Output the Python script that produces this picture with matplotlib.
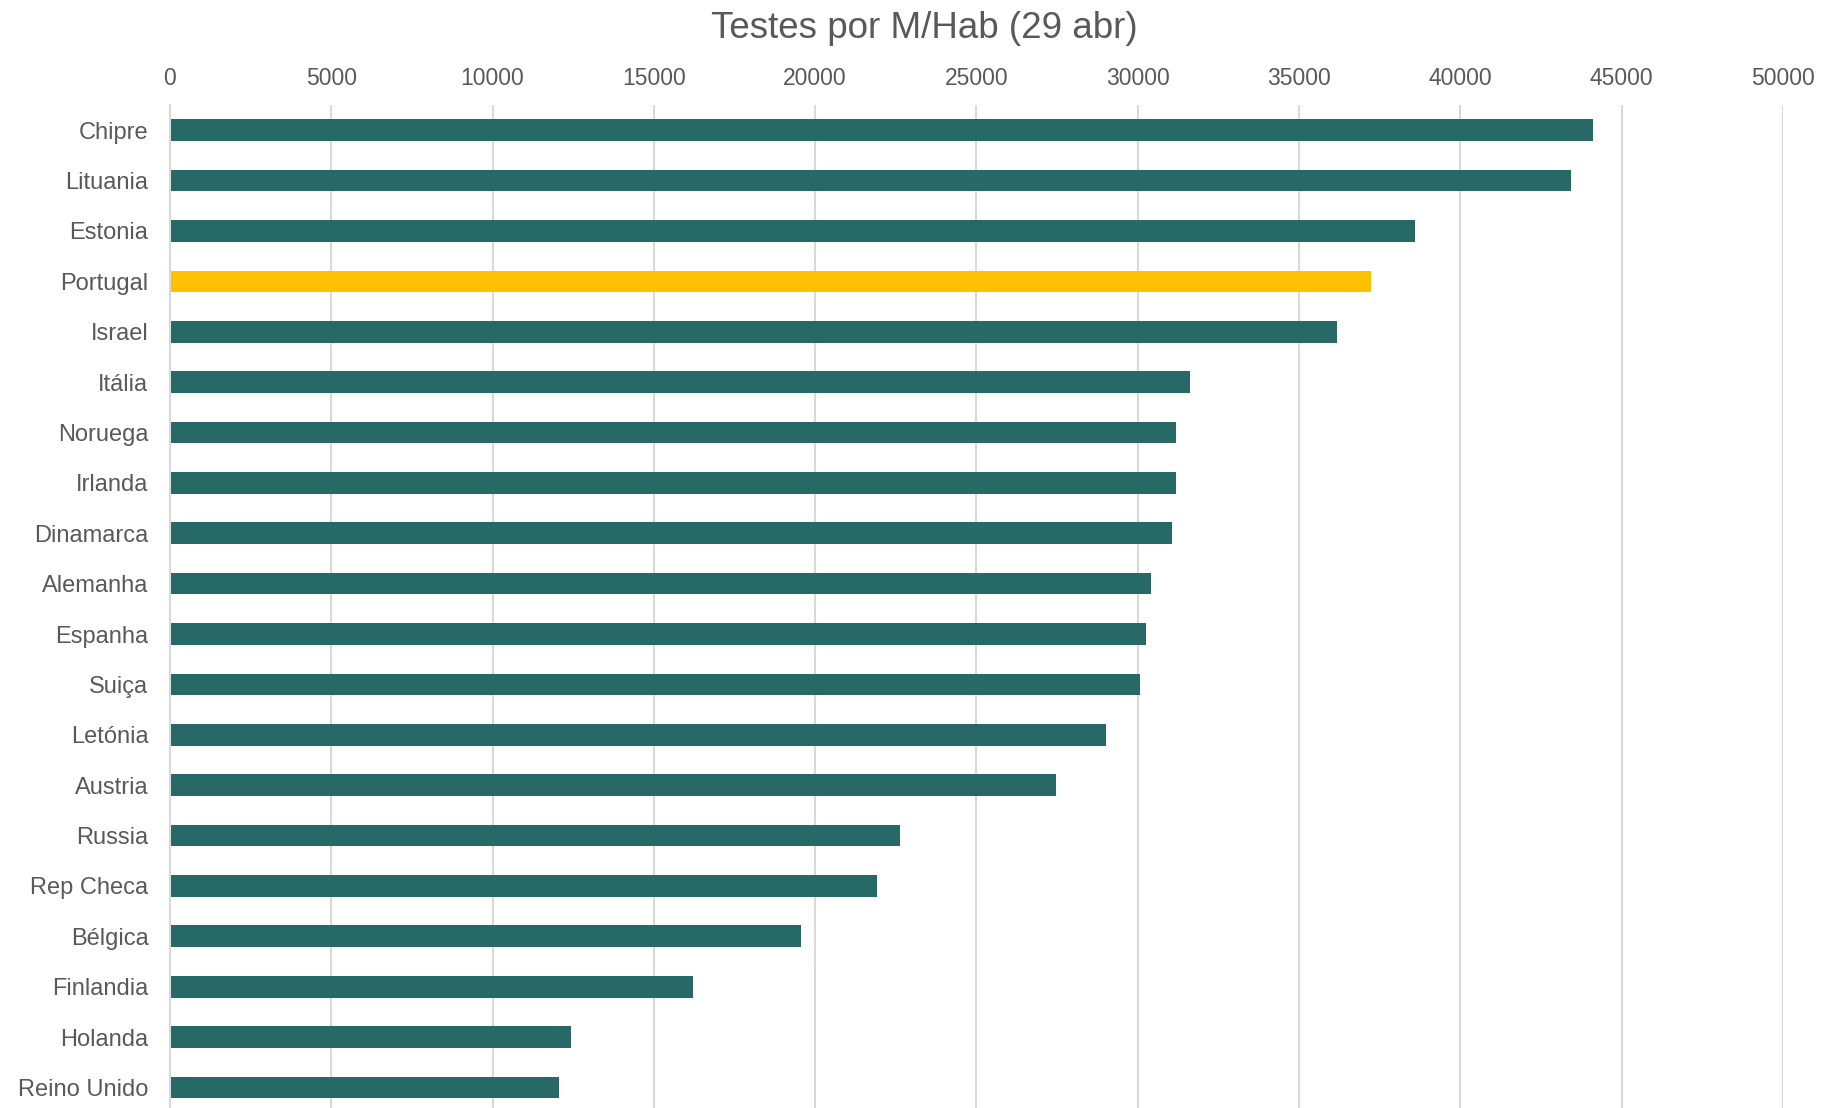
import matplotlib
matplotlib.use("Agg")
import matplotlib.pyplot as plt
import numpy as np

plt.rcParams['font.family'] = ['Liberation Sans', 'DejaVu Sans']

# data, top to bottom
paises = ["Chipre", "Lituania", "Estonia", "Portugal", "Israel", "Itália",
          "Noruega", "Irlanda", "Dinamarca", "Alemanha", "Espanha", "Suiça",
          "Letónia", "Austria", "Russia", "Rep Checa", "Bélgica", "Finlandia",
          "Holanda", "Reino Unido"]
testes = [44100, 43430, 38590, 37230, 36170, 31630,
          31200, 31200, 31060, 30400, 30260, 30080,
          29030, 27480, 22630, 21910, 19560, 16200,
          12430, 12060]
destaque = "Portugal"
xticks = list(range(0, 50001, 5000))

verde = "#276966"
amarelo = "#FFC000"
cinza = "#595959"
grelha = "#D9D9D9"

fig = plt.figure(figsize=(18.29, 11.08), dpi=100)
ax = fig.add_axes([0.0929, -0.0042, 0.8819, 0.9094])

y = np.arange(len(paises))
cores = [amarelo if p == destaque else verde for p in paises]
ax.barh(y, testes, height=0.43, color=cores, zorder=3)

ax.set_xlim(0, 50000)
ax.set_ylim(len(paises) - 0.5, -0.5)
ax.set_yticks(y)
ax.set_yticklabels(paises)
ax.set_xticks(xticks)
ax.set_xticklabels([str(t) for t in xticks])
ax.xaxis.tick_top()

ax.grid(axis="x", color=grelha, linewidth=1.5, zorder=0)
for s in ["top", "right", "bottom"]:
    ax.spines[s].set_visible(False)
ax.spines["left"].set_color(grelha)
ax.spines["left"].set_linewidth(1.5)
ax.spines["left"].set_zorder(4)

ax.tick_params(axis="x", length=0, pad=10.5, labelsize=16.5, labelcolor=cinza)
ax.tick_params(axis="y", length=0, pad=15.5, labelsize=17, labelcolor=cinza)

fig.text(0.5053, 0.9745, "Testes por M/Hab (29 abr)", ha="center", va="center",
         fontsize=26.5, color=cinza)

fig.savefig("out.png", dpi=100)
